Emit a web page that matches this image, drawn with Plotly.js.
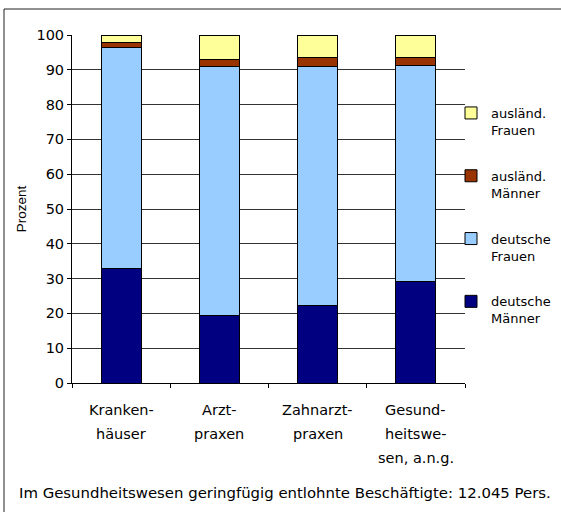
<!DOCTYPE html>
<html><head><meta charset="utf-8">
<script src="https://cdn.plot.ly/plotly-3.0.1.min.js"></script>
<style>body{margin:0;background:#fff}</style>
</head><body><div id="chart" style="width:561px;height:512px"></div>
<script>
const categories = ["Krankenhäuser", "Arztpraxen", "Zahnarztpraxen", "Gesundheitswesen, a.n.g."];
const categoryLabelLines = [["Kranken-", "häuser"], ["Arzt-", "praxen"], ["Zahnarzt-", "praxen"], ["Gesund-", "heitswe-", "sen, a.n.g."]];
const seriesNames = ["deutsche<br>Männer", "deutsche<br>Frauen", "ausländ.<br>Männer", "ausländ.<br>Frauen"];
const seriesColors = ["#000080", "#99CCFF", "#993300", "#FFFF99"];
const deutscheMaenner = [33.0, 19.3, 22.2, 29.3];
const deutscheFrauen = [63.5, 71.7, 68.7, 62.0];
const auslaendMaenner = [1.3, 2.0, 2.6, 2.1];
const auslaendFrauen = [2.2, 7.0, 6.5, 6.6];
const yTickValues = [0, 10, 20, 30, 40, 50, 60, 70, 80, 90, 100];
const yAxisTitle = "Prozent";
const footnote = "Im Gesundheitswesen geringfügig entlohnte Beschäftigte: 12.045 Pers.";

const FONT = "DejaVu Sans, Liberation Sans, Arial, sans-serif";
const FS = 14.5;
const W = 561, H = 512;
const M = {l: 72, r: 96, t: 35, b: 129, autoexpand: false};
const plotW = W - M.l - M.r, plotH = H - M.t - M.b;
const pxX = px => (px - M.l) / plotW;
const pxY = py => (H - M.b - py) / plotH;

const values = [deutscheMaenner, deutscheFrauen, auslaendMaenner, auslaendFrauen];
const traces = values.map((v, i) => ({
  type: "bar",
  x: categories,
  y: v,
  name: seriesNames[i],
  legendgroup: "g" + i,
  legendrank: 1000 - i,
  marker: {color: seriesColors[i], line: {color: "#000", width: 1}},
  hoverinfo: "none"
}));

const annotations = [];
categoryLabelLines.forEach((lines, ci) => {
  lines.forEach((t, li) => {
    annotations.push({
      x: categories[ci], xref: "x", y: pxY(410 + 24 * li), yref: "paper",
      text: t, showarrow: false, xanchor: "center", yanchor: "middle",
      font: {family: FONT, size: FS, color: "#000"}
    });
  });
});
annotations.push({
  x: pxX(17), xref: "paper", y: pxY(493), yref: "paper",
  text: footnote, showarrow: false, xanchor: "left", yanchor: "middle",
  font: {family: FONT, size: 14.9, color: "#000"}
});

const layout = {
  width: W, height: H,
  margin: M,
  paper_bgcolor: "#fff", plot_bgcolor: "#fff",
  barmode: "stack",
  bargap: 0.593,
  font: {family: FONT, size: FS, color: "#000"},
  showlegend: true,
  legend: {
    x: pxX(451), y: pxY(98), xanchor: "left", yanchor: "top",
    traceorder: "grouped", valign: "top", tracegroupgap: 26,
    font: {family: FONT, size: 13, color: "#000"},
    bgcolor: "rgba(0,0,0,0)"
  },
  xaxis: {
    type: "category", range: [-0.5, 3.5], tickson: "boundaries",
    ticks: "outside", ticklen: 4, tickcolor: "#000",
    showline: true, linecolor: "#000", linewidth: 1,
    showgrid: false, showticklabels: false, fixedrange: true
  },
  yaxis: {
    range: [0, 100], tickvals: yTickValues, ticks: "outside", ticklen: 4, tickcolor: "#000",
    showline: true, linecolor: "#000", linewidth: 1,
    gridcolor: "#333", gridwidth: 1, zeroline: false,
    tickfont: {family: FONT, size: FS, color: "#000"},
    title: {text: yAxisTitle, font: {family: "Liberation Sans, Arial, sans-serif", size: 13.5, color: "#000"}, standoff: 6},
    fixedrange: true
  },
  annotations: annotations,
  shapes: [{
    type: "path", xref: "paper", yref: "paper",
    path: `M ${pxX(4)},${pxY(520)} L ${pxX(4)},${pxY(9)} L ${pxX(570)},${pxY(9)}`,
    line: {color: "#222", width: 1}
  }]
};

Plotly.newPlot("chart", traces, layout, {displayModeBar: false, staticPlot: true});
</script>
</body></html>
